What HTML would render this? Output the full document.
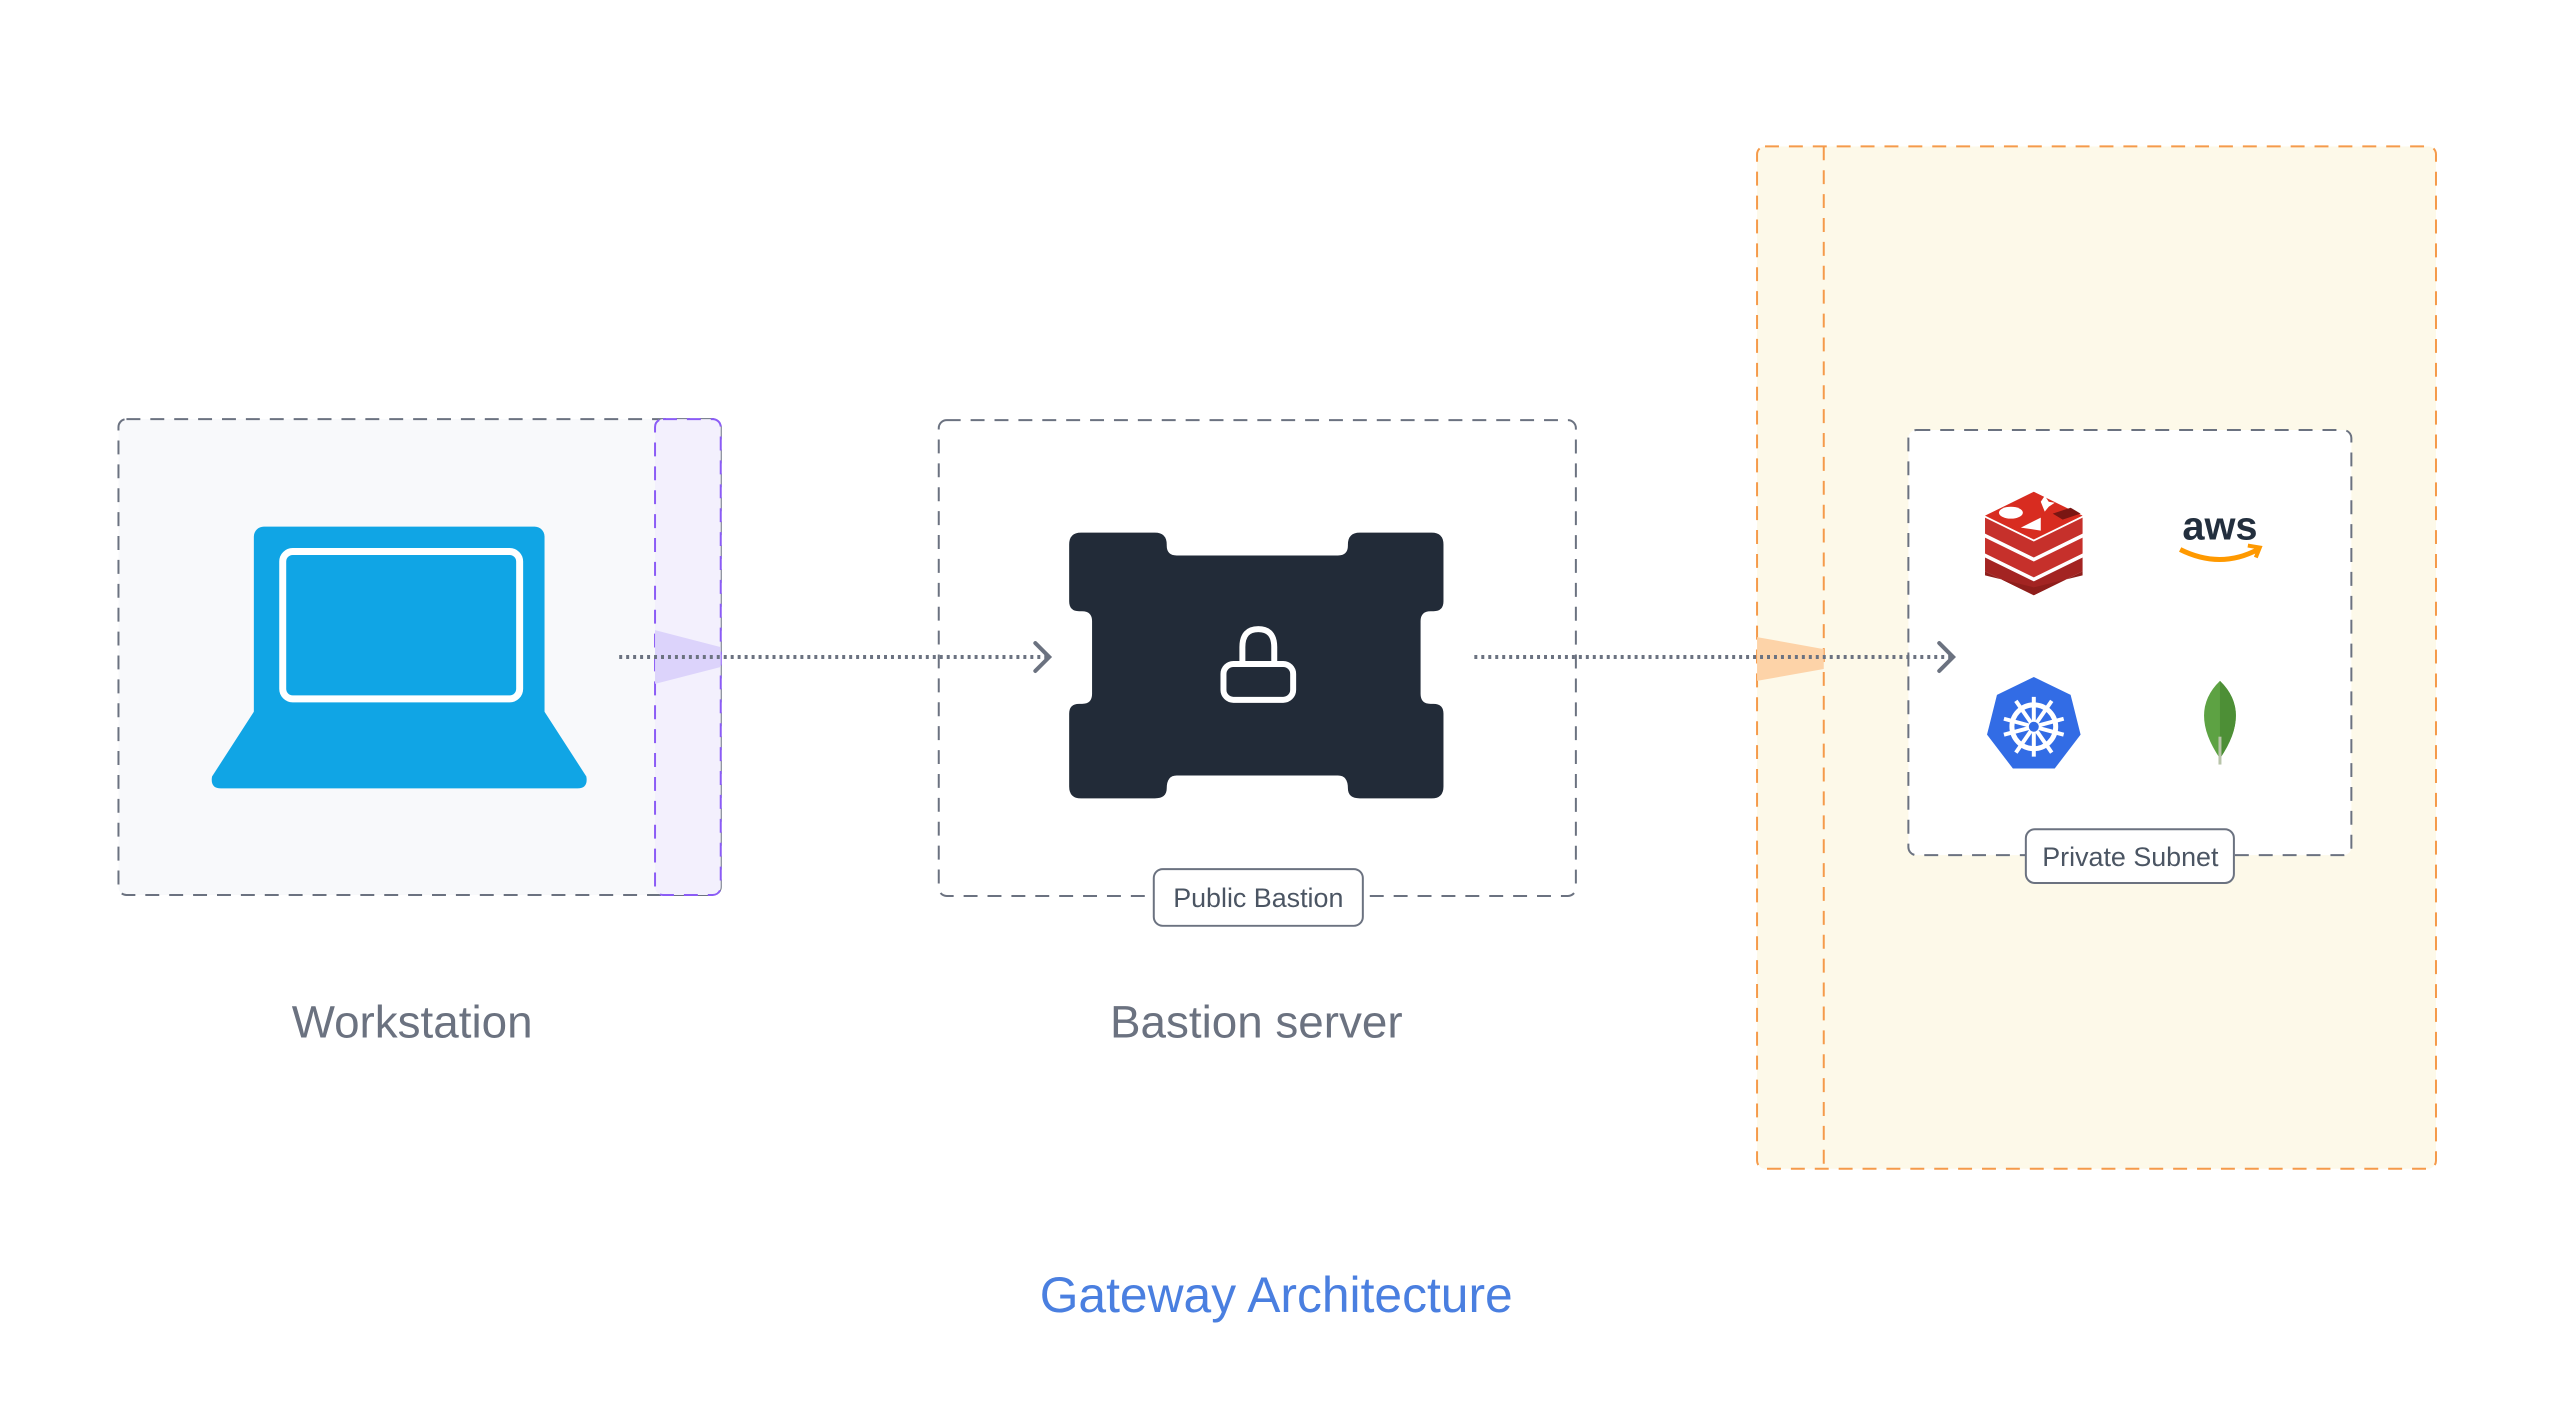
<!DOCTYPE html>
<html><head><meta charset="utf-8"><style>
html,body{margin:0;padding:0;background:#fff;}
svg{display:block;}
text{font-family:"Liberation Sans",sans-serif;}
</style></head><body>
<svg width="2554" height="1411" viewBox="0 0 2554 1411" xmlns="http://www.w3.org/2000/svg">
<g transform="scale(0.9955)">
<!-- orange region -->
<rect x="1765" y="147" width="682" height="1027" rx="8" fill="#fdf9e9" stroke="#f59a4a" stroke-width="2" stroke-dasharray="14 10"/>
<line x1="1832" y1="147" x2="1832" y2="1174" stroke="#f59a4a" stroke-width="2" stroke-dasharray="14 10"/>
<polygon points="1765,640 1832,652 1832,672 1765,684" fill="#fdd3a8"/>
<!-- workstation -->
<rect x="119" y="421" width="605" height="478" rx="8" fill="#f8f9fb" stroke="#6b7280" stroke-width="2" stroke-dasharray="14 10"/>
<rect x="658" y="421" width="66" height="478" rx="8" fill="#f3f0fd" stroke="#8b5cf6" stroke-width="2" stroke-dasharray="14 10"/>
<polygon points="658,633 724,650 724,670 658,687" fill="#dcd3fb"/>
<!-- laptop -->
<rect x="255" y="529" width="292" height="200" rx="10" fill="#10a5e5"/>
<path d="M255,715 L547,715 L589,780 Q591,792 580,792 L222,792 Q211,792 213,780 Z" fill="#10a5e5"/>
<rect x="284" y="554" width="238" height="148" rx="10" fill="none" stroke="#fff" stroke-width="7"/>
<!-- bastion -->
<rect x="943" y="422" width="640" height="478" rx="8" fill="#fff" stroke="#6b7280" stroke-width="2" stroke-dasharray="14 10"/>
<path d="M1086,535 L1160,535 Q1172,535 1172,547 L1172,548 Q1172,558 1182,558 L1344,558 Q1354,558 1354,548 L1354,547 Q1354,535 1366,535 L1438,535 Q1450,535 1450,547 L1450,604 Q1450,614 1440,614 L1437,614 Q1427,614 1427,624 L1427,697 Q1427,707 1437,707 L1440,707 Q1450,707 1450,717 L1450,790 Q1450,802 1438,802 L1366,802 Q1354,802 1354,792 Q1354,779 1344,779 L1182,779 Q1172,779 1172,792 Q1172,802 1160,802 L1086,802 Q1074,802 1074,790 L1074,717 Q1074,707 1084,707 L1087,707 Q1097,707 1097,697 L1097,624 Q1097,614 1087,614 L1084,614 Q1074,614 1074,604 L1074,547 Q1074,535 1086,535 Z" fill="#222b38"/>
<path d="M1248,668 L1248,650 Q1248,632 1264,632 Q1280,632 1280,650 L1280,668" fill="none" stroke="#fff" stroke-width="6"/>
<rect x="1229" y="667" width="70" height="36" rx="10" fill="none" stroke="#fff" stroke-width="6"/>
<rect x="1159" y="873" width="210" height="57" rx="9" fill="#fff" stroke="#6b7280" stroke-width="2"/>
<text x="1264" y="911" font-size="27" fill="#4b5563" text-anchor="middle">Public Bastion</text>
<!-- private subnet -->
<rect x="1917" y="432" width="445" height="427" rx="8" fill="#fff" stroke="#6b7280" stroke-width="2" stroke-dasharray="14 10"/>
<rect x="2035" y="833" width="209" height="54" rx="9" fill="#fff" stroke="#6b7280" stroke-width="2"/>
<text x="2140" y="870" font-size="27" fill="#4b5563" text-anchor="middle">Private Subnet</text>
<!-- redis -->
<g>
<polygon points="1994,560 2043,584 2092,560 2092,574 2043,598 1994,574" fill="#a32422"/>
<polygon points="1994,540 2043,564 2092,540 2092,556 2043,580 1994,556" fill="#c6302b"/>
<polygon points="1994,520 2043,544 2092,520 2092,536 2043,560 1994,536" fill="#c6302b"/>
<polygon points="1994,518 2043,494 2092,518 2043,542" fill="#d82c20"/>
<polygon points="1994,574 2043,598 2092,574 2092,578 2043,590 1994,578" fill="#8f1e1b"/>
<ellipse cx="2020" cy="515" rx="12" ry="6" fill="#fff"/>
<polygon points="2030,530 2050,520 2050,533" fill="#fff"/>
<polygon points="2050,504 2054,498 2058,504 2064,505 2058,509 2054,514 2052,509" fill="#fff"/>
<polygon points="2062,516 2080,510 2090,516 2072,522" fill="#7a1613"/>
</g>
<!-- aws -->
<text x="2230" y="542" font-size="40" font-weight="bold" fill="#232f3e" text-anchor="middle">aws</text>
<path d="M2190,552 Q2230,572 2268,552" fill="none" stroke="#f90" stroke-width="5"/>
<path d="M2258,548 L2270,550 L2266,560" fill="none" stroke="#f90" stroke-width="4"/>
<!-- k8s -->
<polygon points="2043,680 2080,698 2090,738 2064,772 2022,772 1996,738 2006,698" fill="#326ce5"/>
<circle cx="2043" cy="730" r="22" fill="none" stroke="#fff" stroke-width="5"/>
<g stroke="#fff" stroke-width="4">
<line x1="2043" y1="700" x2="2043" y2="760"/><line x1="2013" y1="722" x2="2073" y2="738"/><line x1="2073" y1="722" x2="2013" y2="738"/><line x1="2025" y1="756" x2="2061" y2="704"/><line x1="2061" y1="756" x2="2025" y2="704"/>
</g>
<circle cx="2043" cy="730" r="5" fill="#326ce5"/>
<!-- mongo -->
<path d="M2230,684 Q2262,715 2230,762 Q2198,715 2230,684 Z" fill="#5da243"/>
<path d="M2230,684 Q2262,715 2230,762 Z" fill="#4d8f36"/>
<line x1="2230" y1="740" x2="2230" y2="768" stroke="#b8c4a9" stroke-width="3"/>
<!-- connectors -->
<line x1="622" y1="660" x2="1052" y2="660" stroke="#6b7280" stroke-width="4" stroke-dasharray="3 4"/>
<path d="M1040,646 L1054,660 L1040,674" fill="none" stroke="#6b7280" stroke-width="4" stroke-linecap="round"/>
<line x1="1481" y1="660" x2="1961" y2="660" stroke="#6b7280" stroke-width="4" stroke-dasharray="3 4"/>
<path d="M1948,646 L1962,660 L1948,674" fill="none" stroke="#6b7280" stroke-width="4" stroke-linecap="round"/>
<!-- labels -->
<text x="414" y="1042" font-size="46" fill="#6b7280" text-anchor="middle">Workstation</text>
<text x="1262" y="1042" font-size="46" fill="#6b7280" text-anchor="middle">Bastion server</text>
<text x="1282" y="1318" font-size="50" fill="#4a7fe0" text-anchor="middle">Gateway Architecture</text>
</g>
</svg>
</body></html>
